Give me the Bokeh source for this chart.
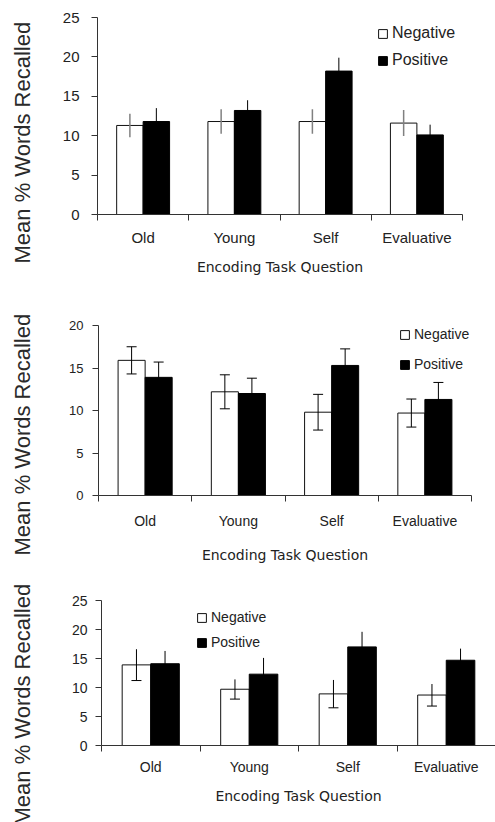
from bokeh.plotting import figure
from bokeh.models import (Range1d, FixedTicker, ColumnDataSource, Whisker, TeeHead,
                          Legend, LegendItem, Title)
from bokeh.layouts import column, row
from bokeh.embed import file_html
from bokeh.resources import INLINE

# ---------------- data ----------------
categories = ["Old", "Young", "Self", "Evaluative"]
series_names = ["Negative", "Positive"]
x_title = "Encoding Task Question"
y_title = "Mean % Words Recalled"

p1_negative = [11.3, 11.8, 11.8, 11.6]
p1_negative_err = [1.5, 1.55, 1.55, 1.65]
p1_positive = [11.8, 13.2, 18.2, 10.1]
p1_positive_err = [1.7, 1.3, 1.7, 1.3]
p1_yticks = [0, 5, 10, 15, 20, 25]

p2_negative = [15.9, 12.2, 9.8, 9.7]
p2_negative_err = [1.6, 2.0, 2.1, 1.65]
p2_positive = [13.9, 12.0, 15.3, 11.3]
p2_positive_err = [1.8, 1.8, 1.95, 2.0]
p2_yticks = [0, 5, 10, 15, 20]

p3_negative = [13.9, 9.7, 8.9, 8.7]
p3_negative_err = [2.7, 1.7, 2.4, 1.9]
p3_positive = [14.1, 12.3, 17.0, 14.7]
p3_positive_err = [2.2, 2.8, 2.6, 2.0]
p3_yticks = [0, 5, 10, 15, 20, 25]

FONT = "Liberation Sans"
TXT = "#222222"
BAR_W = 0.29
TOTAL_W = 495
LABEL_W = 50


def make_label_fig(g):
    lf = figure(width=LABEL_W, height=g["h"], x_range=Range1d(0, 1),
                y_range=Range1d(0, 1), x_axis_type=None, y_axis_type=None,
                output_backend="svg", toolbar_location=None, min_border=0)
    lf.outline_line_color = None
    lf.xgrid.grid_line_color = None
    lf.ygrid.grid_line_color = None
    t = Title(text=y_title, align="left", vertical_align="top",
              offset=g["yl_off"], standoff=18,
              text_font=FONT, text_font_size="22px", text_font_style="normal",
              text_color="#2a2a2a")
    lf.add_layout(t, "left")
    return lf


def make_panel(neg, neg_err, pos, pos_err, yticks, g):
    n = len(categories)
    p = figure(width=TOTAL_W - LABEL_W, height=g["h"], x_range=Range1d(0, n),
               y_range=Range1d(yticks[0], yticks[-1]),
               output_backend="svg", toolbar_location=None,
               min_border_left=g["bl"] - LABEL_W, min_border_right=g["br"],
               min_border_top=g["bt"], min_border_bottom=g["bb"])
    p.outline_line_color = None
    p.xgrid.grid_line_color = None
    p.ygrid.grid_line_color = None
    p.background_fill_color = "white"

    centers = [i + 0.5 for i in range(n)]
    src_neg = ColumnDataSource(dict(
        x=[c - BAR_W / 2 for c in centers], top=neg,
        lower=[v - e for v, e in zip(neg, neg_err)],
        upper=[v + e for v, e in zip(neg, neg_err)]))
    src_pos = ColumnDataSource(dict(
        x=[c + BAR_W / 2 for c in centers], top=pos,
        lower=[v - e for v, e in zip(pos, pos_err)],
        upper=[v + e for v, e in zip(pos, pos_err)]))

    r_neg = p.vbar(x="x", top="top", width=BAR_W, bottom=0, source=src_neg,
                   fill_color="white", line_color="#111111", line_width=1)
    r_pos = p.vbar(x="x", top="top", width=BAR_W, bottom=0, source=src_pos,
                   fill_color="black", line_color="black", line_width=1)

    def head(flag, color):
        return TeeHead(size=10, line_color=color, line_width=1) if flag else None

    for src, col, lw, caps in ((src_neg, g["neg_err_color"], g["err_w"], g["neg_caps"]),
                               (src_pos, "black", 1, g["pos_caps"])):
        w = Whisker(base="x", lower="lower", upper="upper", source=src,
                    dimension="height", line_color=col, line_width=lw,
                    upper_head=head(caps[1], col), lower_head=head(caps[0], col),
                    level="overlay")
        p.add_layout(w)

    # x axis
    xa = p.xaxis[0]
    xa.ticker = FixedTicker(ticks=centers, minor_ticks=list(range(n + 1)))
    xa.major_label_overrides = {c: lab for c, lab in zip(centers, categories)}
    xa.major_tick_line_color = None
    xa.major_tick_out = 0
    xa.major_tick_in = 0
    xa.minor_tick_out = 6
    xa.minor_tick_in = 0
    xa.minor_tick_line_color = "#333333"
    xa.axis_line_color = "#333333"
    xa.major_label_text_font = FONT
    xa.major_label_text_font_size = g["cat_fs"]
    xa.major_label_text_color = TXT
    xa.major_label_standoff = g["cat_so"]
    xa.axis_label = x_title
    xa.axis_label_text_font = "DejaVu Sans"
    xa.axis_label_text_font_style = "normal"
    xa.axis_label_text_font_size = "14px"
    xa.axis_label_text_color = TXT
    xa.axis_label_standoff = g["xt_so"]

    # y axis
    ya = p.yaxis[0]
    ya.ticker = FixedTicker(ticks=yticks)
    ya.major_tick_out = 6
    ya.major_tick_in = 0
    ya.minor_tick_line_color = None
    ya.major_tick_line_color = "#333333"
    ya.axis_line_color = "#333333"
    ya.major_label_text_font = FONT
    ya.major_label_text_font_size = g["tick_fs"]
    ya.major_label_text_color = TXT
    ya.major_label_standoff = g["tick_so"]

    legend = Legend(items=[LegendItem(label=series_names[0], renderers=[r_neg]),
                           LegendItem(label=series_names[1], renderers=[r_pos])],
                    location=g["leg"], orientation="vertical",
                    glyph_width=11, glyph_height=11, label_standoff=4,
                    spacing=g["leg_sp"], padding=0, margin=0,
                    border_line_color=None, background_fill_alpha=0,
                    label_text_font=FONT, label_text_font_size=g["leg_fs"],
                    label_text_color=TXT)
    p.add_layout(legend)
    return p


g1 = dict(h=285, bl=97, br=33, bt=17, bb=71, cat_fs="15px", tick_fs="15px",
          cat_so=8, xt_so=10, tick_so=12, yl_off=-49, leg=(280, 145), leg_sp=9,
          leg_fs="16px", neg_err_color="#808080", err_w=1.5,
          neg_caps=(False, False), pos_caps=(False, False))
g2 = dict(h=280, bl=98, br=24, bt=40, bb=68, cat_fs="14px", tick_fs="13px",
          cat_so=11, xt_so=15, tick_so=9, yl_off=-60, leg=(301, 123), leg_sp=14,
          leg_fs="14px", neg_err_color="black", err_w=1,
          neg_caps=(True, True), pos_caps=(True, True))
g3 = dict(h=257, bl=101, br=0, bt=35, bb=77, cat_fs="14px", tick_fs="14px",
          cat_so=7, xt_so=10, tick_so=8, yl_off=-80, leg=(95, 95), leg_sp=9,
          leg_fs="14px", neg_err_color="black", err_w=1,
          neg_caps=(True, False), pos_caps=(False, False))

rows = []
for neg, ne, pos, pe, yt, g in (
        (p1_negative, p1_negative_err, p1_positive, p1_positive_err, p1_yticks, g1),
        (p2_negative, p2_negative_err, p2_positive, p2_positive_err, p2_yticks, g2),
        (p3_negative, p3_negative_err, p3_positive, p3_positive_err, p3_yticks, g3)):
    rows.append(row(make_label_fig(g), make_panel(neg, ne, pos, pe, yt, g), spacing=0))

layout = column(*rows, spacing=0)
open("out.html", "w").write(file_html(layout, INLINE))
